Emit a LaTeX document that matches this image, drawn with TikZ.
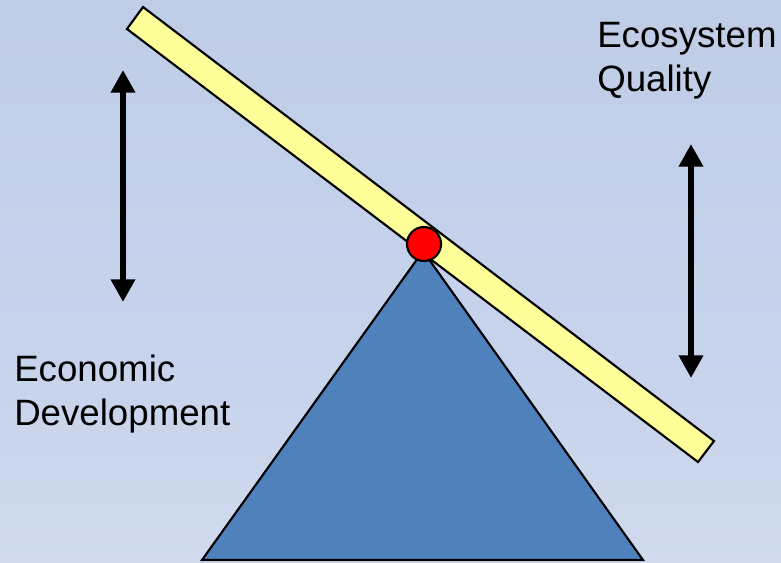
\documentclass[tikz,border=0pt]{standalone}
\usepackage{fontspec}
\setmainfont{Liberation Sans}
\usetikzlibrary{arrows.meta}
\definecolor{bgtop}{RGB}{164,180,212}
\definecolor{bgmid}{RGB}{200,212,236}
\definecolor{bgbot}{RGB}{224,229,242}
\definecolor{beamfill}{RGB}{255,255,153}
\definecolor{basefill}{RGB}{79,129,189}
\pgfdeclareverticalshading{bgshade}{100bp}{color(0bp)=(bgbot); color(40bp)=(bgmid); color(85bp)=(bgmid!70!bgtop); color(100bp)=(bgtop)}
\tikzset{
  outline/.style={draw=black, line width=1.6pt, line join=miter},
  dblarrow/.style={line width=5.2pt, {Triangle[width=17.5pt,length=17pt]}-{Triangle[width=17.5pt,length=17pt]}},
  label/.style={font=\fontsize{27.5}{33}\selectfont, align=left, inner sep=0pt, text=black}
}
\begin{document}
\begin{tikzpicture}[x=0.75pt, y=-0.75pt]
\useasboundingbox (0,0) rectangle (781,563);
\shade[shading=bgshade] (0,0) rectangle (781,563);
% fulcrum
\draw[outline, fill=basefill] (202,560) -- (423,251) -- (643,560) -- cycle;
% beam
\draw[outline, fill=beamfill] (143,7) -- (714,441) -- (698,462) -- (127,29) -- cycle;
% pivot
\node[circle, outline, fill=red, minimum size=25.5pt, inner sep=0pt] (pivot) at (424,244) {};
% arrows
\coordinate (la1) at (123,70);
\coordinate (la2) at (123,302);
\coordinate (ra1) at (691,144);
\coordinate (ra2) at (691,378);
\draw[dblarrow] (la1) -- (la2);
\draw[dblarrow] (ra1) -- (ra2);
% labels (anchor at baseline of the last line)
\node[label, anchor=base west] (eco) at (597,92) {Ecosystem\\Quality};
\node[label, anchor=base west] (econ) at (14,425) {Economic\\Development};
\end{tikzpicture}
\end{document}
